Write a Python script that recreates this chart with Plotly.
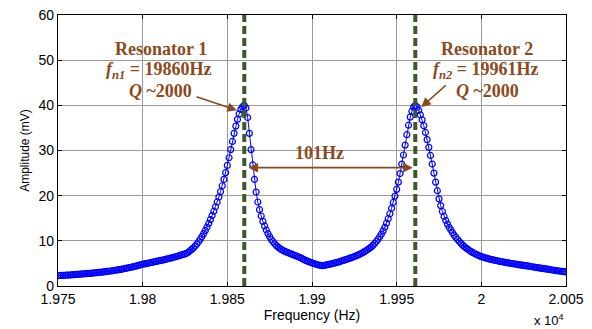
import plotly.graph_objects as go

# ---- data ----
freq_hz = list(range(19750, 20051))  # 1 Hz sweep grid

amplitude_mv = [
    # 19750-19759
    2.30, 2.32, 2.34, 2.36, 2.38, 2.40, 2.42, 2.44, 2.47, 2.50,
    # 19760-19769
    2.53, 2.56, 2.59, 2.62, 2.65, 2.68, 2.71, 2.74, 2.77, 2.80,
    # 19770-19779
    2.84, 2.88, 2.92, 2.96, 3.00, 3.04, 3.08, 3.12, 3.17, 3.22,
    # 19780-19789
    3.27, 3.32, 3.37, 3.43, 3.49, 3.55, 3.61, 3.68, 3.75, 3.82,
    # 19790-19799
    3.90, 3.98, 4.06, 4.14, 4.22, 4.31, 4.40, 4.50, 4.60, 4.70,
    # 19800-19809
    4.80, 4.88, 4.96, 5.04, 5.12, 5.20, 5.28, 5.36, 5.44, 5.52,
    # 19810-19819
    5.60, 5.68, 5.76, 5.85, 5.94, 6.03, 6.12, 6.22, 6.32, 6.42,
    # 19820-19829
    6.53, 6.64, 6.76, 6.88, 7.00, 7.12, 7.25, 7.50, 7.80, 8.10,
    # 19830-19839
    8.45, 8.85, 9.30, 9.80, 10.35, 10.95, 11.60, 12.30, 13.05, 13.85,
    # 19840-19849
    14.70, 15.60, 16.55, 17.55, 18.60, 19.70, 20.90, 22.20, 23.60, 25.10,
    # 19850-19859
    26.70, 28.40, 30.20, 32.00, 33.80, 35.40, 36.90, 38.10, 39.10, 39.70,
    # 19860-19869
    40.00, 39.40, 37.30, 33.80, 30.20, 26.80, 23.60, 20.80, 18.60, 16.90,
    # 19870-19879
    15.50, 14.30, 13.30, 12.40, 11.60, 10.90, 10.30, 9.80, 9.35, 8.95,
    # 19880-19889
    8.60, 8.30, 8.05, 7.85, 7.65, 7.50, 7.35, 7.20, 7.05, 6.90,
    # 19890-19899
    6.75, 6.60, 6.45, 6.30, 6.10, 5.90, 5.70, 5.55, 5.40, 5.25,
    # 19900-19909
    5.10, 4.98, 4.86, 4.75, 4.65, 4.55, 4.50, 4.55, 4.62, 4.70,
    # 19910-19919
    4.78, 4.86, 4.95, 5.05, 5.15, 5.25, 5.35, 5.48, 5.60, 5.72,
    # 19920-19929
    5.85, 5.98, 6.10, 6.23, 6.37, 6.52, 6.67, 6.83, 7.00, 7.20,
    # 19930-19939
    7.40, 7.62, 7.85, 8.10, 8.37, 8.66, 9.00, 9.40, 9.85, 10.35,
    # 19940-19949
    10.90, 11.50, 12.20, 13.00, 13.90, 14.90, 16.00, 17.20, 18.50, 19.90,
    # 19950-19959
    21.40, 23.00, 24.90, 27.00, 29.00, 31.20, 33.50, 35.60, 37.40, 38.70,
    # 19960-19969
    39.60, 40.00, 39.60, 38.90, 37.90, 36.80, 35.50, 34.00, 32.40, 30.70,
    # 19970-19979
    28.90, 27.00, 25.00, 23.00, 21.10, 19.30, 17.80, 16.50, 15.40, 14.50,
    # 19980-19989
    13.70, 13.00, 12.40, 11.80, 11.25, 10.75, 10.30, 9.85, 9.45, 9.05,
    # 19990-19999
    8.70, 8.40, 8.12, 7.86, 7.62, 7.40, 7.20, 7.00, 6.82, 6.65,
    # 20000-20009
    6.50, 6.38, 6.27, 6.16, 6.06, 5.96, 5.87, 5.78, 5.69, 5.61,
    # 20010-20019
    5.53, 5.45, 5.38, 5.31, 5.24, 5.17, 5.10, 5.04, 4.98, 4.92,
    # 20020-20029
    4.86, 4.80, 4.74, 4.68, 4.62, 4.56, 4.50, 4.44, 4.38, 4.32,
    # 20030-20039
    4.26, 4.20, 4.14, 4.08, 4.02, 3.96, 3.90, 3.84, 3.78, 3.72,
    # 20040-20049
    3.66, 3.60, 3.54, 3.48, 3.42, 3.37, 3.32, 3.27, 3.22, 3.17,
    # 20050
    3.12,
]

resonant_freqs = [19860, 19961]
resonator_labels = ["Resonator 1", "Resonator 2"]
q_labels = ["Q ~2000", "Q ~2000"]
separation_label = "101Hz"

x_tickvals = [19750, 19800, 19850, 19900, 19950, 20000, 20050]
x_ticktext = ["1.975", "1.98", "1.985", "1.99", "1.995", "2", "2.005"]
y_tickvals = [0, 10, 20, 30, 40, 50, 60]

assert len(freq_hz) == len(amplitude_mv)

BROWN = "#8B4A1C"
GREEN = "#3B5A2A"
BLUE = "#0000FF"
SERIF = "Liberation Serif, Times New Roman, serif"
SANS = "Liberation Sans, Arial, sans-serif"

fig = go.Figure()
fig.add_trace(go.Scatter(
    x=freq_hz, y=amplitude_mv, mode="lines+markers",
    line=dict(color=BLUE, width=1),
    marker=dict(symbol="circle-open", size=6, color=BLUE, line=dict(width=1.2, color=BLUE)),
    showlegend=False, hoverinfo="x+y",
))

shapes = []
for f0 in resonant_freqs:
    shapes.append(dict(type="line", xref="x", yref="y", x0=f0, x1=f0, y0=0, y1=60,
                       line=dict(color=GREEN, width=4, dash="8px,4px"), layer="above"))

annotations = []
text_font = dict(family=SERIF, size=18, color=BROWN)
blocks = [
    (0.2028, resonator_labels[0], "n1", resonant_freqs[0], q_labels[0], 0.1988, 0.2008),
    (0.8445, resonator_labels[1], "n2", resonant_freqs[1], q_labels[1], 0.8425, 0.8445),
]
for xr, rlab, sub, f0, qlab, xf, xq in blocks:
    annotations.append(dict(xref="paper", yref="paper", x=xr, y=0.8745, text="<b>%s</b>" % rlab,
                            showarrow=False, font=text_font, xanchor="center", yanchor="middle"))
    annotations.append(dict(xref="paper", yref="paper", x=xf, y=0.7934,
                            text="<b><i>f</i><sub><i>%s</i></sub> = %dHz</b>" % (sub, f0),
                            showarrow=False, font=text_font, xanchor="center", yanchor="middle"))
    qtxt = "<b><i>Q</i> " + qlab.split(" ", 1)[1] + "</b>"
    annotations.append(dict(xref="paper", yref="paper", x=xq, y=0.7196, text=qtxt,
                            showarrow=False, font=text_font, xanchor="center", yanchor="middle"))

# pointer arrows to peaks
annotations.append(dict(xref="x", yref="y", x=19855.7, y=38.9, ax=-42, ay=-14, text="",
                        showarrow=True, arrowhead=2, arrowsize=1.2, arrowwidth=1.6, arrowcolor=BROWN))
annotations.append(dict(xref="x", yref="y", x=19964.5, y=39.6, ax=26, ay=-23, text="",
                        showarrow=True, arrowhead=2, arrowsize=1.2, arrowwidth=1.6, arrowcolor=BROWN))
# 101Hz double arrow
annotations.append(dict(xref="x", yref="y", x=19959.5, y=26.2, axref="x", ayref="y",
                        ax=19861.6, ay=26.2, text="", showarrow=True, arrowhead=2, startarrowhead=2,
                        arrowside="end+start", arrowsize=1.2, startarrowsize=1.2,
                        arrowwidth=1.6, arrowcolor=BROWN))
annotations.append(dict(xref="paper", yref="paper", x=0.5157, y=0.4908,
                        text="<b>%s</b>" % separation_label, showarrow=False, font=text_font,
                        xanchor="center", yanchor="middle"))
# exponent label
annotations.append(dict(xref="paper", yref="paper", x=1.0, y=-0.125, xanchor="right", yanchor="middle",
                        text="x 10<sup>4</sup>", showarrow=False,
                        font=dict(family=SANS, size=13, color="black")))

fig.update_layout(
    width=592, height=329,
    margin=dict(l=58, r=26, t=15, b=43, autoexpand=False),
    paper_bgcolor="white", plot_bgcolor="white",
    shapes=shapes, annotations=annotations,
    font=dict(family=SANS, size=14, color="black"),
    showlegend=False,
)
fig.update_xaxes(
    range=[19750, 20050], tickvals=x_tickvals, ticktext=x_ticktext,
    showgrid=True, gridcolor="#9a9a9a", gridwidth=1,
    showline=True, linecolor="black", linewidth=1.3, mirror="ticks",
    ticks="inside", ticklen=4, tickcolor="black", zeroline=False, automargin=False,
    tickfont=dict(family=SANS, size=14, color="black"),
    title=dict(text="Frequency (Hz)", font=dict(family=SANS, size=14, color="black"), standoff=2),
)
fig.update_yaxes(
    range=[0, 60], tickvals=y_tickvals,
    showgrid=True, gridcolor="#9a9a9a", gridwidth=1,
    showline=True, linecolor="black", linewidth=1.3, mirror="ticks",
    ticks="inside", ticklen=4, tickcolor="black", zeroline=False, automargin=False,
    tickfont=dict(family=SANS, size=14, color="black"),
    title=dict(text="Amplitude (mV)", font=dict(family=SANS, size=12, color="black"), standoff=6),
)

fig.write_html(
    "out.html",
    config={"displayModeBar": False},
    post_script="document.body.style.margin='0';document.body.style.padding='0';document.body.style.overflow='hidden';",
)
